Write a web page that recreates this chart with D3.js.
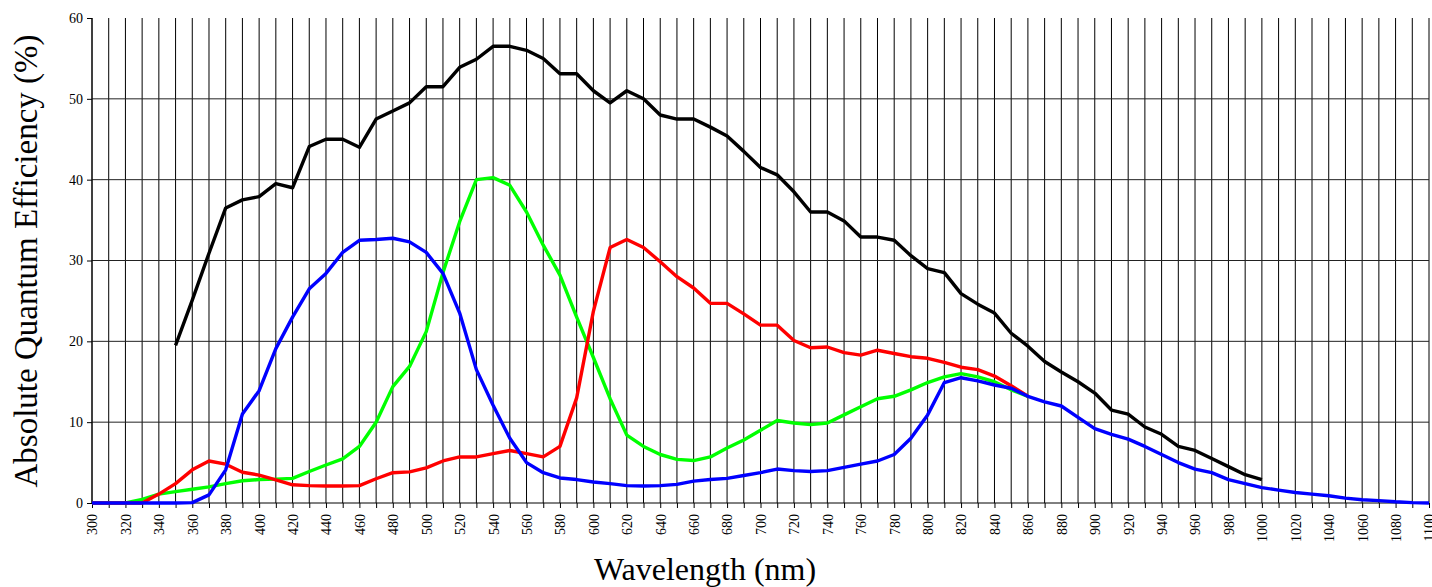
<!DOCTYPE html>
<html>
<head>
<meta charset="utf-8">
<script src="https://cdn.jsdelivr.net/npm/d3@7"></script>
<style>
  body { margin: 0; background: #fff; }
  text { font-family: "Liberation Serif", "Times New Roman", serif; }
</style>
</head>
<body>
<script>
// Quantum efficiency curves

const w = 1432;
const h = 587;
const padL = 92, padR = 1429, padT = 18, padB = 503;

// wavelengths in nm, each series has its own start/end
const totalWl = d3.range(350, 1001, 10);
const totalQe = [19.5, 25.1, 30.9, 36.5, 37.5, 37.9, 39.5, 39.0, 44.1, 45.0, 45.0, 44.0, 47.5, 48.5, 49.5, 51.5,
  51.5, 53.9, 54.9, 56.5, 56.5, 56.0, 55.0, 53.1, 53.1, 51.0, 49.5, 51.0, 50.0, 48.0, 47.5, 47.5, 46.5, 45.4,
  43.5, 41.5, 40.6, 38.5, 36.0, 36.0, 34.9, 32.9, 32.9, 32.5, 30.6, 29.0, 28.5, 25.9, 24.6, 23.5, 21.0, 19.4,
  17.5, 16.2, 15.0, 13.6, 11.5, 11.0, 9.4, 8.5, 7.0, 6.5, 5.5, 4.5, 3.5, 2.9];

const greenWl = d3.range(300, 861, 10);
const greenQe = [0, 0, 0, 0.45, 1.1, 1.4, 1.7, 2.0, 2.4, 2.75, 2.9, 2.95, 3.05, 3.9, 4.7, 5.45, 7.0, 10.0, 14.4,
  16.9, 21.2, 28.5, 34.8, 40.0, 40.25, 39.3, 36.0, 31.9, 28.2, 23.0, 18.0, 12.9, 8.4, 7.0, 6.0, 5.4, 5.25, 5.7,
  6.8, 7.8, 9.0, 10.2, 9.9, 9.7, 9.9, 10.9, 11.9, 12.9, 13.2, 14.0, 14.9, 15.6, 16.0, 15.6, 15.0, 14.0, 13.2];

const redWl = d3.range(300, 861, 10);
const redQe = [0, 0, 0, 0, 1.1, 2.4, 4.1, 5.2, 4.8, 3.8, 3.45, 2.85, 2.25, 2.15, 2.1, 2.1, 2.15, 3.0, 3.75, 3.85,
  4.35, 5.2, 5.7, 5.7, 6.1, 6.5, 6.1, 5.7, 7.0, 13.0, 23.7, 31.6, 32.6, 31.6, 29.85, 28.0, 26.6, 24.7, 24.7,
  23.4, 22.0, 22.0, 20.1, 19.2, 19.3, 18.6, 18.3, 18.9, 18.5, 18.1, 17.9, 17.4, 16.8, 16.5, 15.7, 14.5, 13.2];

const blueWl = d3.range(300, 1101, 10);
const blueQe = [0, 0, 0, 0, 0, 0, 0.05, 1.0, 4.1, 11.0, 13.9, 19.1, 23.0, 26.5, 28.4, 31.0, 32.5, 32.6, 32.75,
  32.3, 31.0, 28.4, 23.5, 16.5, 12.1, 8.0, 5.0, 3.75, 3.1, 2.9, 2.6, 2.4, 2.15, 2.1, 2.15, 2.3, 2.7, 2.9, 3.05,
  3.4, 3.75, 4.2, 4.0, 3.9, 4.0, 4.4, 4.8, 5.2, 6.0, 8.0, 10.9, 14.9, 15.5, 15.1, 14.6, 14.2, 13.2, 12.5, 12.0,
  10.6, 9.2, 8.5, 7.9, 7.0, 6.0, 5.0, 4.2, 3.75, 2.9, 2.4, 1.9, 1.6, 1.3, 1.1, 0.9, 0.6, 0.4, 0.3, 0.15, 0.05, 0];

const xTicks = d3.range(300, 1101, 20);
const yTicks = d3.range(0, 61, 10);

const svg = d3.select("body").append("svg")
  .attr("width", w)
  .attr("height", h);

const x = d3.scaleLinear().domain([300, 1100]).range([padL, padR]);
const y = d3.scaleLinear().domain([0, 60]).range([padB, padT]);

// vertical grid every 10 nm
svg.append("g")
  .selectAll("line")
  .data(d3.range(300, 1101, 10))
  .join("line")
  .attr("x1", d => x(d)).attr("x2", d => x(d))
  .attr("y1", padT).attr("y2", padB)
  .attr("stroke", "#000")
  .attr("stroke-width", 1);

// horizontal grid
svg.append("g")
  .selectAll("line")
  .data(yTicks.filter(d => d > 0 && d < 60))
  .join("line")
  .attr("x1", padL).attr("x2", padR)
  .attr("y1", d => y(d)).attr("y2", d => y(d))
  .attr("stroke", "#222")
  .attr("stroke-width", 1);

// axes
const xAxis = d3.axisBottom(x)
  .tickValues(d3.range(300, 1101, 10))
  .tickSize(5)
  .tickFormat(d => xTicks.includes(d) ? d : "");

const gx = svg.append("g")
  .attr("transform", "translate(0," + padB + ")")
  .call(xAxis);
gx.select(".domain").attr("stroke", "#000").attr("d", "M" + padL + ",0H" + padR);
gx.selectAll("text")
  .attr("transform", "rotate(-90)")
  .attr("x", -11)
  .attr("y", 0)
  .attr("dy", "0.35em")
  .style("text-anchor", "end")
  .style("font-size", "14px")
  .style("font-family", "Liberation Serif, serif")
  .attr("fill", "#000");

const yAxis = d3.axisLeft(y).tickValues(yTicks).tickSize(5);
const gy = svg.append("g")
  .attr("transform", "translate(" + padL + ",0)")
  .call(yAxis);
gy.select(".domain").attr("stroke", "#000").attr("d", "M0," + padT + "V" + padB);
gy.selectAll("text")
  .attr("x", -9)
  .style("font-size", "14px")
  .style("font-family", "Liberation Serif, serif")
  .attr("fill", "#000");

// curves
const line = d3.line()
  .x(d => x(d[0]))
  .y(d => y(d[1]));

const series = [
  { wl: totalWl, qe: totalQe, color: "#000000" },
  { wl: greenWl, qe: greenQe, color: "#00ff00" },
  { wl: redWl, qe: redQe, color: "#ff0000" },
  { wl: blueWl, qe: blueQe, color: "#0000ff" }
];

series.forEach(s => {
  svg.append("path")
    .datum(d3.zip(s.wl, s.qe))
    .attr("d", line)
    .attr("fill", "none")
    .attr("stroke", s.color)
    .attr("stroke-width", 3.4)
    .attr("stroke-linejoin", "round");
});

// titles
svg.append("text")
  .attr("x", 705)
  .attr("y", 580)
  .style("text-anchor", "middle")
  .style("font-size", "32px")
  .text("Wavelength (nm)");

svg.append("text")
  .attr("transform", "rotate(-90)")
  .attr("x", -261)
  .attr("y", 37)
  .style("text-anchor", "middle")
  .style("font-size", "33px")
  .text("Absolute Quantum Efficiency (%)");
</script>
</body>
</html>
